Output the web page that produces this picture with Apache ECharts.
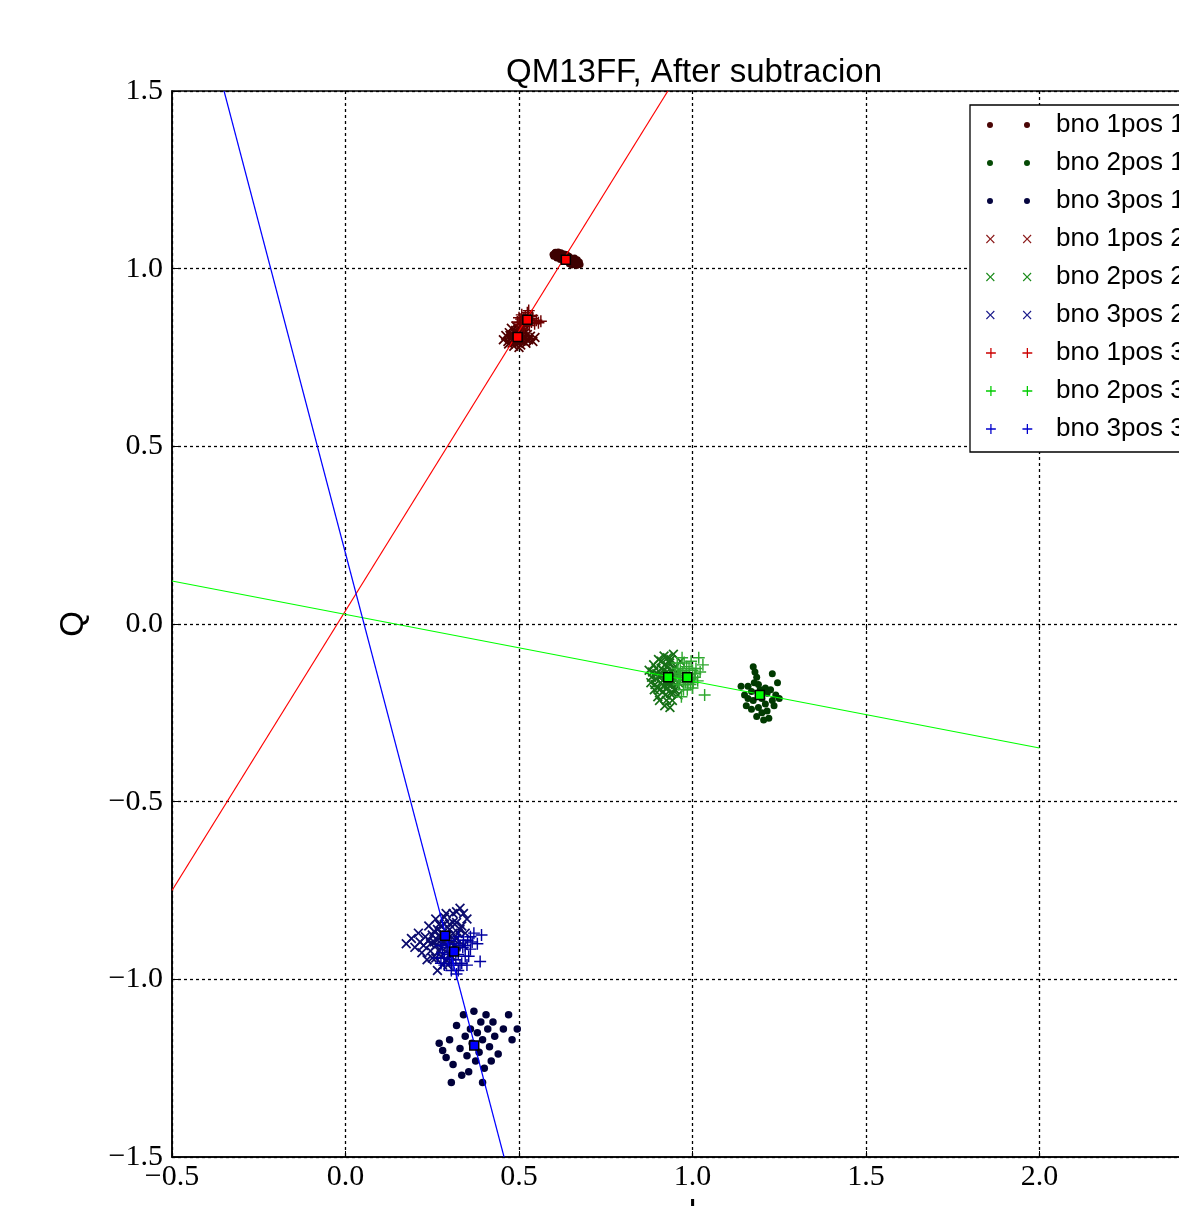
<!DOCTYPE html>
<html>
<head>
<meta charset="utf-8">
<script src="https://cdn.jsdelivr.net/npm/echarts@6/dist/echarts.min.js"></script>
<style>html,body{margin:0;padding:0;background:#fff;}#c{width:1179px;height:1206px;}</style>
</head>
<body>
<div id="c"></div>
<script>
// ---------------- data ----------------
const titleText = 'QM13FF, After subtracion';
const xTicks = [-0.5, 0.0, 0.5, 1.0, 1.5, 2.0, 2.5];
const yTicks = [-1.5, -1.0, -0.5, 0.0, 0.5, 1.0, 1.5];
const seriesNames = ['bno 1pos 1','bno 2pos 1','bno 3pos 1','bno 1pos 2','bno 2pos 2','bno 3pos 2','bno 1pos 3','bno 2pos 3','bno 3pos 3'];

const red1 = [[0.598,1.040],[0.603,1.044],[0.607,1.036],[0.611,1.042],[0.615,1.033],[0.618,1.039],[0.621,1.045],[0.624,1.030],[0.627,1.036],[0.630,1.041],[0.633,1.025],[0.636,1.032],[0.639,1.020],[0.641,1.028],[0.644,1.035],[0.647,1.022],[0.650,1.030],[0.653,1.018],[0.656,1.026],[0.659,1.014],[0.662,1.022],[0.665,1.017],[0.668,1.025],[0.671,1.012],[0.674,1.019],[0.609,1.030],[0.619,1.026],[0.645,1.014],[0.628,1.020],[0.660,1.030],[0.605,1.046],[0.613,1.047],[0.600,1.035],[0.652,1.010],[0.676,1.012],[0.666,1.009],[0.637,1.040]];
const green1 = [[1.160,-0.175],[1.175,-0.120],[1.180,-0.135],[1.185,-0.150],[1.178,-0.165],[1.190,-0.170],[1.195,-0.185],[1.170,-0.190],[1.150,-0.200],[1.140,-0.175],[1.160,-0.210],[1.175,-0.215],[1.200,-0.210],[1.215,-0.195],[1.225,-0.185],[1.240,-0.200],[1.230,-0.215],[1.210,-0.225],[1.190,-0.235],[1.170,-0.240],[1.200,-0.250],[1.215,-0.245],[1.185,-0.260],[1.205,-0.270],[1.220,-0.265],[1.235,-0.230],[1.250,-0.210],[1.230,-0.140],[1.245,-0.165],[1.155,-0.230],[1.195,-0.200],[1.210,-0.180]];
const blue1 = [[0.280,-1.200],[0.290,-1.220],[0.300,-1.170],[0.310,-1.240],[0.320,-1.130],[0.330,-1.195],[0.340,-1.100],[0.345,-1.160],[0.350,-1.215],[0.355,-1.260],[0.360,-1.140],[0.365,-1.180],[0.370,-1.090],[0.375,-1.230],[0.380,-1.150],[0.385,-1.205],[0.390,-1.120],[0.395,-1.170],[0.400,-1.250],[0.405,-1.100],[0.410,-1.140],[0.415,-1.190],[0.420,-1.230],[0.425,-1.120],[0.430,-1.160],[0.440,-1.210],[0.455,-1.140],[0.470,-1.100],[0.480,-1.170],[0.495,-1.140],[0.305,-1.290],[0.335,-1.270],[0.395,-1.290],[0.270,-1.180]];
const red2 = [[0.455,0.800],[0.462,0.812],[0.468,0.795],[0.472,0.820],[0.476,0.805],[0.480,0.790],[0.483,0.815],[0.487,0.800],[0.490,0.826],[0.493,0.808],[0.496,0.792],[0.499,0.818],[0.502,0.803],[0.505,0.785],[0.508,0.812],[0.511,0.797],[0.514,0.824],[0.517,0.806],[0.520,0.790],[0.524,0.815],[0.528,0.800],[0.533,0.810],[0.540,0.795],[0.546,0.806],[0.485,0.782],[0.500,0.778],[0.478,0.832],[0.510,0.835],[0.470,0.788],[0.492,0.838],[0.482,0.808],[0.488,0.818],[0.494,0.798],[0.498,0.826],[0.504,0.816],[0.506,0.796],[0.512,0.808],[0.486,0.792],[0.474,0.812],[0.516,0.818],[0.522,0.800],[0.490,0.805]];
const green2 = [[0.875,-0.130],[0.882,-0.150],[0.888,-0.115],[0.892,-0.170],[0.897,-0.140],[0.902,-0.100],[0.905,-0.185],[0.910,-0.125],[0.914,-0.160],[0.918,-0.090],[0.922,-0.200],[0.926,-0.135],[0.930,-0.170],[0.934,-0.110],[0.938,-0.150],[0.942,-0.215],[0.946,-0.125],[0.950,-0.185],[0.955,-0.140],[0.960,-0.165],[0.965,-0.105],[0.920,-0.230],[0.935,-0.235],[0.900,-0.205],[0.945,-0.085],[0.915,-0.190],[0.928,-0.095],[0.890,-0.185],[0.958,-0.200],[0.912,-0.145],[0.905,-0.145],[0.915,-0.130],[0.925,-0.160],[0.932,-0.140],[0.940,-0.170],[0.948,-0.155],[0.920,-0.115],[0.908,-0.165],[0.936,-0.195],[0.952,-0.120],[0.895,-0.155],[0.928,-0.180],[0.880,-0.165],[0.885,-0.135],[0.895,-0.125],[0.900,-0.180],[0.910,-0.105],[0.918,-0.175],[0.924,-0.145],[0.930,-0.120],[0.940,-0.135],[0.944,-0.195],[0.952,-0.170],[0.905,-0.215],[0.925,-0.215],[0.938,-0.100]];
const blue2 = [[0.175,-0.900],[0.190,-0.885],[0.200,-0.910],[0.210,-0.870],[0.220,-0.925],[0.230,-0.880],[0.240,-0.850],[0.245,-0.900],[0.250,-0.940],[0.255,-0.865],[0.260,-0.830],[0.265,-0.890],[0.270,-0.920],[0.275,-0.850],[0.280,-0.960],[0.285,-0.880],[0.290,-0.815],[0.295,-0.905],[0.300,-0.860],[0.305,-0.935],[0.310,-0.840],[0.315,-0.890],[0.320,-0.810],[0.325,-0.870],[0.330,-0.800],[0.335,-0.850],[0.340,-0.905],[0.350,-0.830],[0.265,-0.975],[0.235,-0.945],[0.255,-0.895],[0.265,-0.860],[0.275,-0.910],[0.285,-0.845],[0.295,-0.875],[0.300,-0.930],[0.310,-0.870],[0.280,-0.895],[0.270,-0.875],[0.315,-0.905],[0.245,-0.920],[0.290,-0.945],[0.250,-0.875],[0.260,-0.905],[0.270,-0.845],[0.280,-0.870],[0.290,-0.890],[0.300,-0.845],[0.305,-0.900],[0.320,-0.885],[0.330,-0.860],[0.320,-0.840],[0.260,-0.940],[0.275,-0.935],[0.295,-0.960],[0.240,-0.890],[0.225,-0.905],[0.215,-0.895],[0.285,-0.825],[0.310,-0.815],[0.345,-0.870],[0.340,-0.815]];
const red3 = [[0.495,0.850],[0.500,0.862],[0.504,0.842],[0.508,0.870],[0.512,0.853],[0.515,0.838],[0.518,0.866],[0.521,0.848],[0.524,0.876],[0.527,0.858],[0.530,0.840],[0.533,0.866],[0.536,0.850],[0.540,0.860],[0.545,0.845],[0.550,0.855],[0.556,0.848],[0.563,0.852],[0.510,0.830],[0.528,0.882],[0.506,0.858],[0.514,0.862],[0.520,0.856],[0.526,0.866],[0.532,0.855],[0.517,0.845],[0.538,0.868],[0.502,0.848]];
const green3 = [[0.950,-0.140],[0.956,-0.110],[0.960,-0.170],[0.965,-0.130],[0.970,-0.095],[0.974,-0.185],[0.978,-0.150],[0.983,-0.120],[0.987,-0.165],[0.992,-0.140],[0.996,-0.105],[1.000,-0.180],[1.005,-0.150],[1.010,-0.125],[1.015,-0.160],[1.022,-0.135],[1.030,-0.115],[1.035,-0.200],[0.968,-0.205],[1.018,-0.095],[0.962,-0.150],[0.972,-0.135],[0.980,-0.165],[0.990,-0.125],[0.998,-0.155],[0.976,-0.110],[1.008,-0.140],[0.985,-0.185],[0.958,-0.125],[1.002,-0.165],[0.955,-0.160],[0.966,-0.145],[0.975,-0.170],[0.982,-0.140],[0.994,-0.170],[1.000,-0.130]];
const blue3 = [[0.265,-0.940],[0.275,-0.905],[0.285,-0.960],[0.295,-0.930],[0.300,-0.890],[0.305,-0.975],[0.310,-0.920],[0.318,-0.945],[0.325,-0.880],[0.330,-0.960],[0.338,-0.910],[0.345,-0.935],[0.352,-0.890],[0.360,-0.915],[0.370,-0.870],[0.380,-0.900],[0.392,-0.875],[0.388,-0.950],[0.320,-0.985],[0.350,-0.960],[0.290,-0.910],[0.300,-0.945],[0.315,-0.900],[0.325,-0.930],[0.335,-0.955],[0.340,-0.890],[0.280,-0.925],[0.310,-0.960],[0.285,-0.940],[0.295,-0.900],[0.330,-0.905],[0.345,-0.905],[0.355,-0.935],[0.365,-0.895],[0.305,-0.955],[0.275,-0.955],[0.325,-0.975],[0.360,-0.880]];

const meansRed = [[0.635,1.025],[0.496,0.808],[0.524,0.856]];
const meansGreen = [[1.194,-0.200],[0.930,-0.150],[0.985,-0.150]];
const meansBlue = [[0.371,-1.186],[0.287,-0.877],[0.313,-0.922]];

const fitRed = [[-0.5,-0.75],[0.929,1.5]];
const fitGreen = [[-0.5,0.121],[2.0,-0.349]];
const fitBlue = [[-0.350,1.5],[0.457,-1.5]];

// ---------------- styling helpers ----------------
function plusPts(cx, cy, h, t, rot) {
  const a = t / 2;
  const pts = [[-a,-h],[a,-h],[a,-a],[h,-a],[h,a],[a,a],[a,h],[-a,h],[-a,a],[-h,a],[-h,-a],[-a,-a]];
  const c = Math.cos(rot), s = Math.sin(rot);
  return 'M' + pts.map(p => (cx + p[0]*c - p[1]*s).toFixed(3) + ',' + (cy + p[0]*s + p[1]*c).toFixed(3)).join('L') + 'Z';
}
const plusSym = 'path://' + plusPts(10, 10, 10, 2.4, 0);
const xSym = 'path://' + plusPts(10, 10, 10, 2.8, Math.PI / 4);
const speck = 'M0,0L0.01,0L0,0.01Z M65,10L64.99,10L65,9.99Z ';
const legDot = 'path://' + speck + 'M1,5A3,3 0 1,0 7,5A3,3 0 1,0 1,5Z M38,5A3,3 0 1,0 44,5A3,3 0 1,0 38,5Z';
const legX = 'path://' + speck + plusPts(4, 5, 5.6, 1.2, Math.PI/4) + ' ' + plusPts(41, 5, 5.6, 1.2, Math.PI/4);
const legPlus = 'path://' + speck + plusPts(4, 5, 5, 1.3, 0) + ' ' + plusPts(41, 5, 5, 1.3, 0);

const plotColors = ['#3d0000','#003a00','#00003a','#500000','#167016','#0c0c6e','#6e0000','#2fa82f','#0000a0'];
const legendColors = ['#4a0505','#054a05','#05053f','#8b1a1a','#1a8b1a','#1a1a8b','#cc0000','#00cc00','#0000cc'];
const dataSets = [red1, green1, blue1, red2, green2, blue2, red3, green3, blue3];
const symbols = ['circle','circle','circle', xSym, xSym, xSym, plusSym, plusSym, plusSym];
const symSizes = [7,7,7.5, 10,10,10, 12,12,12];
const legIcons = [legDot,legDot,legDot, legX,legX,legX, legPlus,legPlus,legPlus];

const fmt = v => (Math.round(v*10)/10).toFixed(1).replace('-', '\u2212');
const serif = 'Liberation Serif';
const sans = 'Liberation Sans';

const series = [];
for (let i = 0; i < 9; i++) {
  series.push({
    name: seriesNames[i], type: 'scatter', data: dataSets[i],
    symbol: symbols[i], symbolSize: symSizes[i],
    itemStyle: { color: plotColors[i], opacity: 1 },
    emphasis: { disabled: true }
  });
}
[[fitRed,'#ff0000'],[fitGreen,'#00ff00'],[fitBlue,'#0000ff']].forEach(([d,c]) => {
  series.push({ type: 'line', data: d, showSymbol: false, symbol: 'none',
    lineStyle: { color: c, width: 1.2 }, itemStyle: {color: c}, silent: true, z: 3 });
});
[[meansRed,'#ff0000'],[meansGreen,'#00ff00'],[meansBlue,'#0000ff']].forEach(([d,c]) => {
  series.push({ type: 'scatter', data: d, symbol: 'rect', symbolSize: 9,
    itemStyle: { color: c, borderColor: '#000', borderWidth: 1.5, opacity: 1 }, silent: true, z: 4 });
});

const chart = echarts.init(document.getElementById('c'), null, {renderer: 'canvas'});
chart.setOption({
  animation: false,
  backgroundColor: '#fff',
  title: {
    text: titleText, left: 689, top: 51, textAlign: 'center',
    textStyle: { fontFamily: sans, fontSize: 33, fontWeight: 'normal', color: '#000' }
  },
  grid: { left: 172, top: 91, width: 1041, height: 1066, outerBoundsMode: 'none', containLabel: false,
    show: true, borderColor: '#000', borderWidth: 1.5, backgroundColor: 'transparent' },
  legend: {
    orient: 'vertical', left: 970, top: 105,
    itemWidth: 65, itemHeight: 10, itemGap: 10,
    padding: [6, 10, 9, 16],
    backgroundColor: '#fff', borderColor: '#000', borderWidth: 1.3, borderRadius: 0,
    symbolKeepAspect: false, selectedMode: false,
    textStyle: { fontFamily: sans, fontSize: 26, lineHeight: 28, color: '#000' },
    data: seriesNames.map((n, i) => ({ name: n, icon: legIcons[i], itemStyle: { color: legendColors[i], borderWidth: 0 } }))
  },
  xAxis: [{
    type: 'value', min: xTicks[0], max: xTicks[xTicks.length-1], interval: 0.5,
    name: 'I', nameLocation: 'middle', nameGap: 34,
    nameTextStyle: { fontFamily: sans, fontSize: 33, color: '#000' },
    axisLine: { show: true, onZero: false, lineStyle: { color: '#000', width: 1.5 } },
    axisTick: { show: true, inside: true, length: 6, lineStyle: { color: '#000' } },
    axisLabel: { formatter: fmt, fontFamily: serif, fontSize: 30, color: '#000', margin: 5 },
    splitLine: { show: true, lineStyle: { color: '#000', type: [3, 3], width: 1.3 } }
  }, {
    type: 'value', position: 'top', min: xTicks[0], max: xTicks[xTicks.length-1], interval: 0.5,
    axisLine: { show: false }, axisLabel: { show: false }, splitLine: { show: false },
    axisTick: { show: true, inside: true, length: 6, lineStyle: { color: '#000' } }
  }],
  yAxis: [{
    type: 'value', min: yTicks[0], max: yTicks[yTicks.length-1], interval: 0.5,
    name: 'Q', nameLocation: 'middle', nameGap: 82,
    nameTextStyle: { fontFamily: sans, fontSize: 33, color: '#000' },
    axisLine: { show: true, onZero: false, lineStyle: { color: '#000', width: 1.5 } },
    axisTick: { show: true, inside: true, length: 6, lineStyle: { color: '#000' } },
    axisLabel: { formatter: fmt, fontFamily: serif, fontSize: 30, color: '#000', margin: 9 },
    splitLine: { show: true, lineStyle: { color: '#000', type: [3, 3], width: 1.3 } }
  }],
  series: series
});
</script>
</body>
</html>
